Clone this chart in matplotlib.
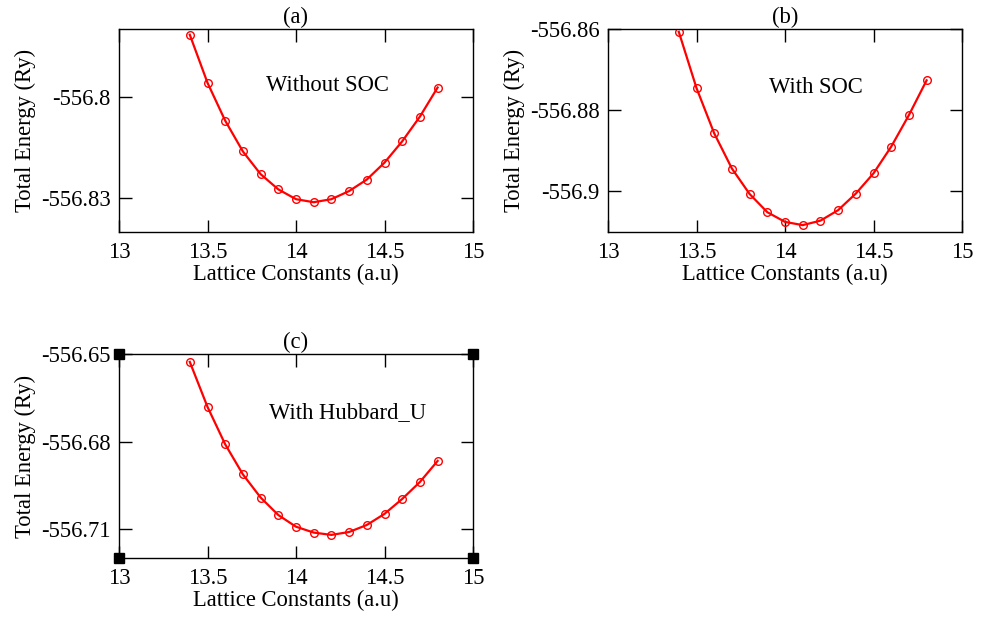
import matplotlib

matplotlib.use("Agg")
import matplotlib.pyplot as plt
import numpy as np

# Paramètres de maille (a.u) communs aux trois calculs
lattice = [13.4, 13.5, 13.6, 13.7, 13.8, 13.9, 14.0, 14.1, 14.2, 14.3, 14.4, 14.5, 14.6, 14.7, 14.8]

energy_no_soc = [-556.7817, -556.7959, -556.8071, -556.8162, -556.8229, -556.8274, -556.8303, -556.8312,
                 -556.8303, -556.8279, -556.8245, -556.8195, -556.8132, -556.8059, -556.7973]
energy_soc = [-556.8607, -556.8746, -556.8858, -556.8945, -556.9008, -556.9053, -556.9077, -556.9085,
              -556.9074, -556.9048, -556.9007, -556.8957, -556.8891, -556.8813, -556.8727]
energy_hubbard = [-556.6527, -556.6681, -556.6809, -556.6912, -556.6991, -556.7051, -556.7091, -556.7111,
                  -556.7119, -556.7109, -556.7085, -556.7047, -556.6996, -556.6938, -556.6866]

panel_titles = ["(a)", "(b)", "(c)"]
panel_notes = ["Without SOC", "With SOC", "With Hubbard_U"]
y_ticks = [[-556.83, -556.80], [-556.90, -556.88, -556.86], [-556.71, -556.68, -556.65]]
y_ticklabels = [["-556.83", "-556.8"], ["-556.9", "-556.88", "-556.86"], ["-556.71", "-556.68", "-556.65"]]
y_limits = [(-556.84, -556.78), (-556.9102, -556.86), (-556.7198, -556.65)]
x_ticks = [13, 13.5, 14, 14.5, 15]
x_ticklabels = ["13", "13.5", "14", "14.5", "15"]

plt.rcParams["font.family"] = ["Liberation Serif", "DejaVu Serif"]
FS = 16.3

fig = plt.figure(figsize=(9.95, 6.17), dpi=100)
W, H = 995, 617
boxes = [(119, 29, 473, 232), (608, 29, 962, 232), (119, 354, 473, 558)]
note_pos = [(0.415, 0.724), (0.455, 0.714), (0.424, 0.711)]
series = [energy_no_soc, energy_soc, energy_hubbard]

for i, (x0, y0, x1, y1) in enumerate(boxes):
    ax = fig.add_axes([x0 / W, (H - y1) / H, (x1 - x0) / W, (y1 - y0) / H])
    ax.plot(lattice, series[i], color="red", linewidth=1.6, marker="o", markersize=5.5,
            markerfacecolor="none", markeredgecolor="red", markeredgewidth=1.0)
    ax.set_xlim(13, 15)
    ax.set_ylim(*y_limits[i])
    ax.set_xticks(x_ticks)
    ax.set_xticklabels(x_ticklabels)
    ax.set_yticks(y_ticks[i])
    ax.set_yticklabels(y_ticklabels[i])
    ax.tick_params(direction="in", top=True, right=True, length=9, width=1.0,
                   labelsize=FS, pad=6)
    ax.tick_params(axis="x", pad=7)
    for sp in ax.spines.values():
        sp.set_linewidth(1.0)
    ax.set_xlabel("Lattice Constants (a.u)", fontsize=FS, labelpad=1)
    ax.set_ylabel("Total Energy (Ry)", fontsize=FS, labelpad=3.5)
    ax.set_title(panel_titles[i], fontsize=FS, pad=4)
    ax.text(note_pos[i][0], note_pos[i][1], panel_notes[i], transform=ax.transAxes,
            fontsize=FS, ha="left", va="center")
    if i == 2:
        # poignées de sélection (style xmgrace) aux coins du cadre
        ax.plot([0, 1, 0, 1], [0, 0, 1, 1], linestyle="none", marker="s", markersize=7,
                color="black", transform=ax.transAxes, clip_on=False)

fig.savefig("out.png", dpi=100)
